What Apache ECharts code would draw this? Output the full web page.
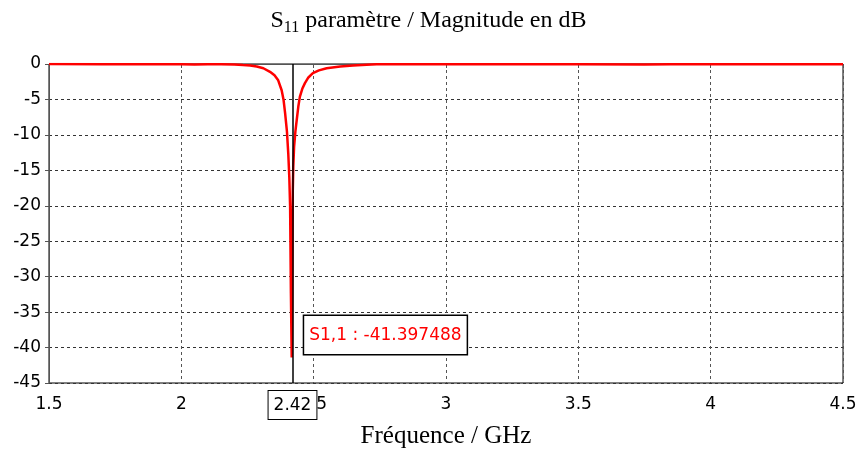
<!DOCTYPE html>
<html>
<head>
<meta charset="utf-8">
<script src="https://cdn.jsdelivr.net/npm/echarts@6/dist/echarts.min.js"></script>
<style>
html, body { margin: 0; padding: 0; background: #fff; }
#chart { width: 857px; height: 451px; }
</style>
</head>
<body>
<div id="chart"></div>
<script>
// frequence (GHz) et |S11| (dB)
var freqGHz = [1.5, 1.7, 1.9, 2.0, 2.05, 2.1, 2.15, 2.2, 2.233, 2.26, 2.285, 2.31, 2.335, 2.352, 2.366,
	2.379, 2.386, 2.392, 2.399, 2.404, 2.408, 2.411, 2.414, 2.417, 2.419, 2.421, 2.423, 2.426, 2.431,
	2.436, 2.442, 2.448, 2.457, 2.467, 2.48, 2.497, 2.52, 2.549, 2.6, 2.649, 2.7, 2.738, 2.8, 3.0, 3.2,
	3.5, 3.75, 3.85, 4.0, 4.2, 4.5];
var s11dB = [0, -0.02, -0.05, -0.03, -0.08, -0.04, -0.05, -0.08, -0.15, -0.2, -0.35, -0.6, -1.1, -1.6, -2.3,
	-3.7, -5.0, -6.9, -9.5, -12.6, -16, -20.1, -32.3, -41.397488, -31, -18, -14.5, -11.7, -9.5,
	-7.9, -6.0, -4.6, -3.5, -2.7, -1.9, -1.3, -0.9, -0.6, -0.35, -0.2, -0.1, -0.05, -0.03, -0.04, -0.05,
	-0.03, -0.08, -0.04, -0.05, -0.03, -0.02];

// marqueur
var markerFreq = 2.417;
var markerLabel = '2.42';
var markerValue = -41.397488;

var points = freqGHz.map(function (f, i) { return [f, s11dB[i]]; });

var sans = 'DejaVu Sans';
var serif = 'Liberation Serif';

var myChart = echarts.init(document.getElementById('chart'));
var option = {
	animation: false,
	title: {
		text: '{a|S}{sub|11}{a| paramètre / Magnitude en dB}',
		left: 'center',
		top: 4,
		textStyle: {
			rich: {
				a: { fontFamily: serif, fontSize: 24, fontWeight: 'normal', color: '#000', verticalAlign: 'bottom' },
				sub: { fontFamily: serif, fontSize: 16, fontWeight: 'normal', color: '#000', verticalAlign: 'bottom', padding: [0, 0, -3, 0] }
			}
		}
	},
	grid: {
		left: 49, right: 14, top: 64, bottom: 68,
		outerBoundsMode: 'none',
		containLabel: false,
		show: true, borderColor: '#000', borderWidth: 1
	},
	xAxis: {
		type: 'value',
		min: 1.5, max: 4.5, interval: 0.5,
		name: 'Fréquence / GHz',
		nameLocation: 'middle',
		nameGap: 41,
		nameTextStyle: { fontFamily: serif, fontSize: 25, color: '#000' },
		axisLine: { lineStyle: { color: '#555', width: 1 } },
		axisTick: { show: true, length: 4, lineStyle: { color: '#555' } },
		axisLabel: { fontFamily: sans, fontSize: 17, color: '#000', margin: 13 },
		splitLine: { show: true, lineStyle: { color: '#555', type: [3, 3], width: 1 } }
	},
	yAxis: {
		type: 'value',
		min: -45, max: 0, interval: 5,
		axisLine: { show: true, lineStyle: { color: '#555', width: 1 } },
		axisTick: { show: true, length: 4, lineStyle: { color: '#555' } },
		axisLabel: { fontFamily: sans, fontSize: 17, color: '#000', margin: 8 },
		splitLine: { show: true, lineStyle: { color: '#333', type: [3, 3], width: 1 } }
	},
	series: [{
		type: 'line',
		data: points,
		showSymbol: false,
		lineStyle: { color: '#ff0000', width: 2.5 },
		itemStyle: { color: '#ff0000' },
		markLine: {
			silent: true,
			symbol: 'none',
			lineStyle: { color: '#000', type: 'solid', width: 1.5 },
			label: {
				position: 'start',
				distance: 8,
				formatter: markerLabel,
				fontFamily: sans, fontSize: 17, color: '#000',
				backgroundColor: '#fff', borderColor: '#000', borderWidth: 1,
				padding: [6, 5, 5, 5]
			},
			data: [{ xAxis: markerFreq }]
		},
		markPoint: {
			silent: true,
			symbol: 'rect',
			symbolSize: 1,
			itemStyle: { color: 'rgba(0,0,0,0)' },
			label: {
				show: true,
				position: [13, -41],
				formatter: 'S1,1 : ' + markerValue.toFixed(6),
				fontFamily: sans, fontSize: 17, color: '#ff0000',
				backgroundColor: '#fff', borderColor: '#000', borderWidth: 1.5,
				padding: [11, 5, 10, 5]
			},
			data: [{ coord: [markerFreq, markerValue] }]
		}
	}]
};
myChart.setOption(option);
</script>
</body>
</html>
